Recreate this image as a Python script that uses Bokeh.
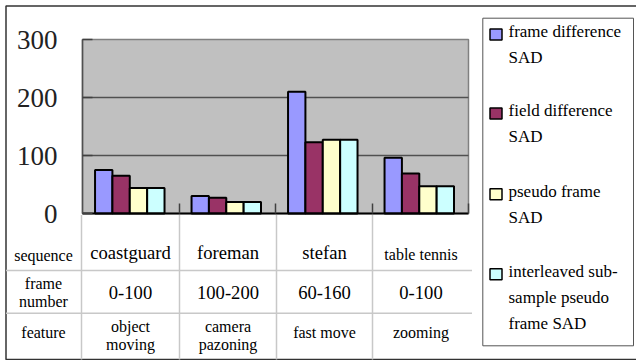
from bokeh.plotting import figure
from bokeh.models import Range1d, LinearAxis, FixedTicker, Label, BoxAnnotation, ColumnDataSource
from bokeh.embed import file_html
from bokeh.resources import INLINE
import numpy as np

# ---------------- data ----------------
sequences = ["coastguard", "foreman", "stefan", "table tennis"]
frame_numbers = ["0-100", "100-200", "60-160", "0-100"]
features = [["object", "moving"], ["camera", "pazoning"], ["fast move"], ["zooming"]]
series_names = [["frame difference", "SAD"],
                ["field difference", "SAD"],
                ["pseudo frame", "SAD"],
                ["interleaved sub-", "sample pseudo", "frame SAD"]]
frame_diff_sad = [75, 30, 210, 96]
field_diff_sad = [65, 27, 123, 69]
pseudo_frame_sad = [44, 20, 127, 47]
interleaved_sad = [44, 20, 127, 47]
y_ticks = [0, 100, 200, 300]

series = [frame_diff_sad, field_diff_sad, pseudo_frame_sad, interleaved_sad]
colors = ["#9999FF", "#993366", "#FFFFCC", "#CCFFFF"]

# ---------------- layout (pixel helpers) ----------------
W, H = 636, 360
FL, FR, FT, FB = 82, 468, 39, 213   # plot-area box in pixels
SERIF = "Liberation Serif"
NCAT = len(sequences)
YMAX = 300

def X(px):
    return (px - FL) / (FR - FL) * NCAT

def Y(py):
    return (FB - py) / (FB - FT) * YMAX

p = figure(width=W, height=H, output_backend="svg", toolbar_location=None,
           x_range=Range1d(X(0), X(W)), y_range=Range1d(Y(H), Y(0)),
           x_axis_type=None, y_axis_type=None,
           min_border_left=0, min_border_right=0, min_border_top=0, min_border_bottom=0)
p.background_fill_color = "white"
p.border_fill_color = "white"
p.outline_line_color = None

# plot area
p.add_layout(BoxAnnotation(left=0, right=NCAT, bottom=0, top=YMAX, level="underlay",
                           fill_color="#C0C0C0", fill_alpha=1,
                           line_color="#808080", line_alpha=1, line_width=1.5))

# gridlines
gy = [t for t in y_ticks if 0 < t < YMAX]
p.segment(x0=[0] * len(gy), x1=[NCAT] * len(gy), y0=gy, y1=gy,
          line_color="#505050", line_width=1.3)

# bars
offsets = [-0.28, -0.10, 0.08, 0.26]
bw = 0.18
base = np.arange(NCAT) + 0.5
for vals, col, off in zip(series, colors, offsets):
    src = ColumnDataSource(dict(x=base + off, top=vals))
    p.vbar(x="x", top="top", bottom=0, width=bw, source=src,
           fill_color=col, line_color="black", line_width=2)

# axes (fixed inside the frame)
yax = LinearAxis(ticker=FixedTicker(ticks=y_ticks), fixed_location=0, bounds=(0, YMAX))
yax.axis_line_color = "#505050"
yax.axis_line_width = 1.5
yax.major_tick_in = 10
yax.major_tick_out = 0
yax.minor_tick_line_color = None
yax.major_tick_line_color = "#404040"
yax.major_tick_line_width = 1.5
yax.major_label_text_font = SERIF
yax.major_label_text_font_size = "27px"
yax.major_label_text_color = "#222222"
yax.major_label_standoff = 25
p.add_layout(yax, "left")

xax = LinearAxis(ticker=FixedTicker(ticks=list(range(1, NCAT + 1))), fixed_location=0,
                 bounds=(0, NCAT))
xax.axis_line_color = "black"
xax.axis_line_width = 2
xax.major_tick_in = 10
xax.major_tick_out = 0
xax.minor_tick_line_color = None
xax.major_tick_line_color = "#404040"
xax.major_tick_line_width = 1.5
xax.major_label_text_alpha = 0
xax.major_label_text_font_size = "8px"
p.add_layout(xax, "below")

def hline(py, x0, x1, color="#C8C8C8", w=1.5):
    p.add_layout(BoxAnnotation(left=X(x0), right=X(x1), top=Y(py), bottom=Y(py),
                               fill_alpha=0, line_color=color, line_alpha=1, line_width=w))

def vline(px, y0, y1, color="#C8C8C8", w=1.5):
    p.add_layout(BoxAnnotation(left=X(px), right=X(px), top=Y(y0), bottom=Y(y1),
                               fill_alpha=0, line_color=color, line_alpha=1, line_width=w))

def text(px, py, s, size, align="center"):
    p.add_layout(Label(x=X(px), y=Y(py), text=s, text_font=SERIF,
                       text_font_size=f"{size}px", text_align=align,
                       text_baseline="middle", text_color="black"))

# outer frame
p.add_layout(BoxAnnotation(left=X(5.5), right=X(640), top=Y(5.5), bottom=Y(359),
                           fill_alpha=0, line_color="#333333", line_alpha=1, line_width=1.5))

# table grid
for px in [81, 179, 276, 372]:
    vline(px, 214.5, 359)
hline(270, 5.5, 471.5)
hline(312.7, 5.5, 471.5)

# table texts
text(43, 255, "sequence", 16)
text(43, 283.3, "frame", 16)
text(43, 300.7, "number", 16)
text(43, 331.7, "feature", 16)
col_centers = [130, 227.5, 324, 420.5]
for i, cx in enumerate(col_centers):
    s = sequences[i]
    if len(s) > 10:
        text(cx, 254, s, 16)
    else:
        text(cx, 252, s, 18.6)
    text(cx, 291.7, frame_numbers[i], 18.6)
    f = features[i]
    if len(f) == 2:
        text(cx, 325.7, f[0], 16)
        text(cx, 343.5, f[1], 16)
    else:
        text(cx, 331.5, f[0], 16)

# legend
p.add_layout(BoxAnnotation(left=X(482.3), right=X(633), top=Y(17.7), bottom=Y(345.3),
                           fill_color="white", fill_alpha=1, line_color="#555555",
                           line_alpha=1, line_width=1))
entry_y = [31, 110, 190.7, 270.7]
for lines, col, ey in zip(series_names, colors, entry_y):
    p.add_layout(BoxAnnotation(left=X(489.5), right=X(501.5), top=Y(ey - 2.5), bottom=Y(ey + 8.5),
                               fill_color=col, fill_alpha=1, line_color="black",
                               line_alpha=1, line_width=1.5))
    for k, ln in enumerate(lines):
        text(508, ey + 26 * k, ln, 17, align="left")

open("out.html", "w").write(file_html(p, INLINE))
